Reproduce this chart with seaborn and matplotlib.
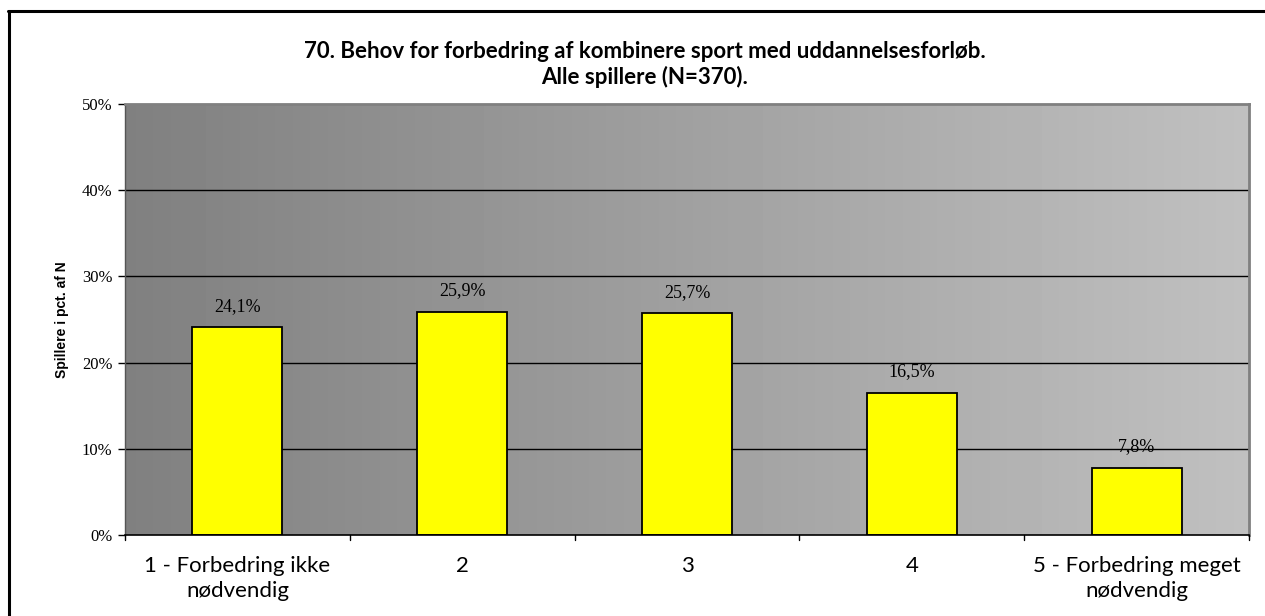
import numpy as np
import pandas as pd
import matplotlib
matplotlib.use("Agg")
import matplotlib.pyplot as plt
import seaborn as sns
from matplotlib.lines import Line2D

categories = ["1 - Forbedring ikke\nnødvendig", "2", "3", "4", "5 - Forbedring meget\nnødvendig"]
values = [24.1, 25.9, 25.7, 16.5, 7.8]
value_labels = ["24,1%", "25,9%", "25,7%", "16,5%", "7,8%"]
yticks = [0, 10, 20, 30, 40, 50]
ytick_labels = ["0%", "10%", "20%", "30%", "40%", "50%"]
title_line1 = "70. Behov for forbedring af kombinere sport med uddannelsesforløb."
title_line2 = "Alle spillere (N=370)."
ylabel = "Spillere i pct. af N"

sns.set_theme(style="white")
plt.rcParams['font.family'] = ['DejaVu Sans']
plt.rcParams['text.color'] = 'black'
plt.rcParams['axes.labelcolor'] = 'black'
plt.rcParams['xtick.color'] = 'black'
plt.rcParams['ytick.color'] = 'black'

W, H = 1265, 616
fig = plt.figure(figsize=(W / 100, H / 100), dpi=100)
ax = fig.add_axes([125 / W, 1 - 535 / H, (1249 - 125) / W, (535 - 104) / H])

df = pd.DataFrame({"cat": categories, "val": values})

# gradient background
grad = np.linspace(0x80 / 255, 0xC0 / 255, 256).reshape(1, -1)
ax.imshow(grad, extent=[0, 1, 0, 1], transform=ax.transAxes, cmap="gray",
          vmin=0, vmax=1, aspect="auto", zorder=0, interpolation="bilinear")

for y in yticks[1:-1]:
    ax.axhline(y, color="black", lw=1, zorder=1)

sns.barplot(data=df, x="cat", y="val", ax=ax, color="#FFFF00", width=0.4,
            edgecolor="black", linewidth=1.3, saturation=1, zorder=2)

ax.set_xlim(-0.5, len(categories) - 0.5)
ax.set_ylim(0, 50)
ax.set_yticks(yticks)
ax.set_yticklabels(ytick_labels, family="Liberation Serif", fontsize=12)
ax.set_xticks(range(len(categories)))
ax.set_xticklabels(categories, family="Lato", fontsize=16, linespacing=1.3)
ax.tick_params(axis="x", length=0, pad=15, labelcolor="black")
ax.tick_params(axis="y", length=5, width=1, color="black", direction="out", left=True, pad=4,
               labelcolor="black")

# category boundary ticks
for b in np.arange(-0.5, len(categories), 1.0):
    ax.plot([b, b], [0, -0.012], transform=ax.get_xaxis_transform(), color="black",
            lw=1, clip_on=False, zorder=3)

for p, lab in zip(ax.patches, value_labels):
    ax.annotate(lab, (p.get_x() + p.get_width() / 2, p.get_height()),
                xytext=(0, 9), textcoords="offset points", ha="center", va="bottom",
                family="Liberation Serif", fontsize=13, color="black")

ax.set_xlabel("")
ax.set_ylabel(ylabel, family="Liberation Sans", fontweight="bold", fontsize=10, labelpad=9,
              color="black")

for s in ["top", "right"]:
    ax.spines[s].set_color("#808080")
    ax.spines[s].set_linewidth(2)
ax.spines["left"].set_color("#555555")
ax.spines["left"].set_linewidth(1)
ax.spines["bottom"].set_color("black")
ax.spines["bottom"].set_linewidth(1.2)

fig.text(645 / W, 1 - 52 / H, title_line1, ha="center", va="center",
         family="Lato", fontweight="bold", fontsize=16, color="black")
fig.text(645 / W, 1 - 77 / H, title_line2, ha="center", va="center",
         family="Lato", fontweight="bold", fontsize=16, color="black")

# outer border (only top and left visible in the reference)
fig.add_artist(Line2D([9 / W, 9 / W], [-0.01, 1 - 11 / H], transform=fig.transFigure,
                      color="black", lw=2.2))
fig.add_artist(Line2D([8 / W, 1.01], [1 - 11 / H, 1 - 11 / H], transform=fig.transFigure,
                      color="black", lw=2.2))

fig.savefig("out.png", dpi=100)
